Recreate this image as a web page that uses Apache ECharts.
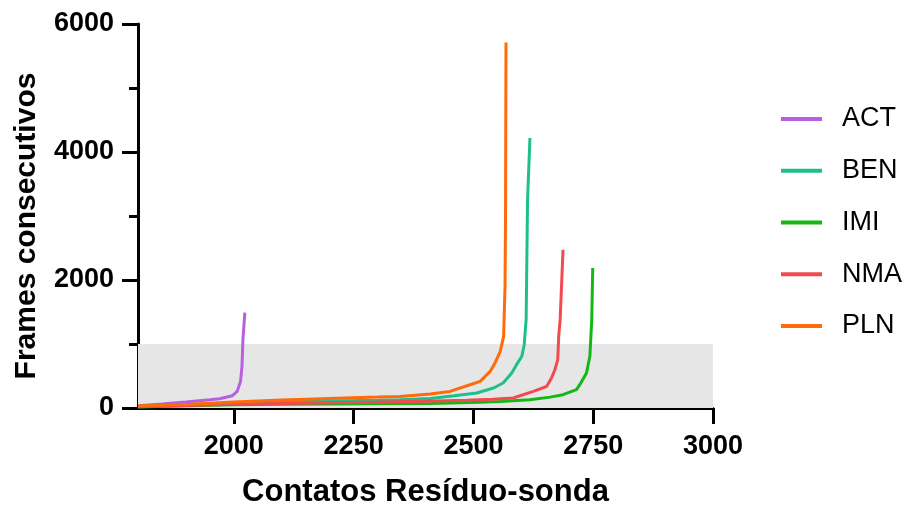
<!DOCTYPE html>
<html>
<head>
<meta charset="utf-8">
<script src="https://cdn.jsdelivr.net/npm/echarts@6/dist/echarts.min.js"></script>
<style>
html,body{margin:0;padding:0;background:#fff;}
#chart{width:908px;height:507px;}
</style>
</head>
<body>
<div id="chart"></div>
<script>
const seriesNames = ['ACT', 'BEN', 'IMI', 'NMA', 'PLN'];
const seriesColors = ['#b65fe0', '#1fbf8c', '#14b814', '#f24a4f', '#ff6a0a'];

const ACT = [[1800,36],[1850,62],[1900,94],[1950,128],[1970,145],[1997,192],[2007,260],[2014,416],[2017,650],[2019,1067],[2023,1490]];
const BEN = [[1800,25],[1900,50],[2000,78],[2100,95],[2200,108],[2300,120],[2347,130],[2410,150],[2460,190],[2507,234],[2542,312],[2562,390],[2580,547],[2590,677],[2601,806],[2606,989],[2610,1380],[2613,3255],[2618,4219]];
const IMI = [[1800,15],[1900,35],[2000,52],[2100,58],[2200,62],[2300,66],[2410,70],[2514,88],[2556,100],[2618,130],[2660,170],[2687,208],[2715,286],[2722,364],[2736,547],[2743,806],[2747,1380],[2749,2188]];
const NMA = [[1800,20],[1900,40],[2000,60],[2100,72],[2200,82],[2300,92],[2400,105],[2486,120],[2540,135],[2583,156],[2625,259],[2653,338],[2663,469],[2670,598],[2676,755],[2678,1119],[2681,1380],[2687,2473]];
const PLN = [[1800,30],[1900,55],[2000,95],[2100,125],[2200,150],[2300,170],[2347,181],[2410,219],[2451,259],[2493,364],[2514,416],[2535,572],[2545,703],[2556,884],[2563,1119],[2564,1380],[2566,1900],[2567,3000],[2568,5712]];
const seriesData = [ACT, BEN, IMI, NMA, PLN];

const xTicks = [2000, 2250, 2500, 2750, 3000];
const xRange = [1800, 3000];
const yRange = [0, 6000];
const yInterval = 2000;
const bandRange = [0, 1000];

const font = 'Liberation Sans, Arial, sans-serif';
const chart = echarts.init(document.getElementById('chart'));

const series = seriesNames.map((n, i) => ({
  name: n,
  type: 'line',
  data: seriesData[i],
  showSymbol: false,
  symbol: 'none',
  z: 3,
  lineStyle: { color: seriesColors[i], width: 3 },
  itemStyle: { color: seriesColors[i] }
}));
series.unshift({
  name: 'band',
  type: 'line',
  data: [],
  z: 1,
  silent: true,
  markArea: {
    silent: true,
    itemStyle: { color: '#e6e6e6' },
    data: [[{ xAxis: xRange[0], yAxis: bandRange[0] }, { xAxis: xRange[1], yAxis: bandRange[1] }]]
  }
});

chart.setOption({
  animation: false,
  backgroundColor: '#fff',
  grid: { left: 138, right: 195, top: 24, bottom: 99, containLabel: false, outerBoundsMode: 'none' },
  legend: {
    data: seriesNames,
    orient: 'vertical',
    left: 776,
    top: 99,
    icon: 'rect',
    itemWidth: 41,
    itemHeight: 4,
    itemGap: 21.75,
    textStyle: { fontFamily: font, fontSize: 27, color: '#000', lineHeight: 30, padding: [0, 0, 0, 15] }
  },
  xAxis: {
    type: 'value',
    min: xRange[0],
    max: xRange[1],
    name: 'Contatos Resíduo-sonda',
    nameLocation: 'middle',
    nameGap: 69,
    nameTextStyle: { fontFamily: font, fontSize: 31, fontWeight: 'bold', color: '#000' },
    axisLine: { show: true, onZero: false, lineStyle: { color: '#000', width: 3 } },
    axisTick: { show: true, inside: false, length: 16, lineStyle: { color: '#000', width: 3 }, customValues: xTicks },
    axisLabel: { fontFamily: font, fontSize: 27, fontWeight: 'bold', color: '#000', margin: 25, customValues: xTicks, formatter: v => String(v) },
    splitLine: { show: false }
  },
  yAxis: {
    type: 'value',
    min: yRange[0],
    max: yRange[1],
    interval: yInterval,
    name: 'Frames consecutivos',
    nameLocation: 'middle',
    nameGap: 96,
    nameTextStyle: { fontFamily: font, fontSize: 30, fontWeight: 'bold', color: '#000', padding: [0, 20, 0, 0] },
    axisLine: { show: true, lineStyle: { color: '#000', width: 3 } },
    axisTick: { show: true, inside: false, length: 16, lineStyle: { color: '#000', width: 3 } },
    minorTick: { show: true, splitNumber: 2, length: 9, lineStyle: { color: '#000', width: 3 } },
    axisLabel: { fontFamily: font, fontSize: 27, fontWeight: 'bold', color: '#000', margin: 24, formatter: v => String(v) },
    splitLine: { show: false },
    minorSplitLine: { show: false }
  },
  series: series
});
</script>
</body>
</html>
